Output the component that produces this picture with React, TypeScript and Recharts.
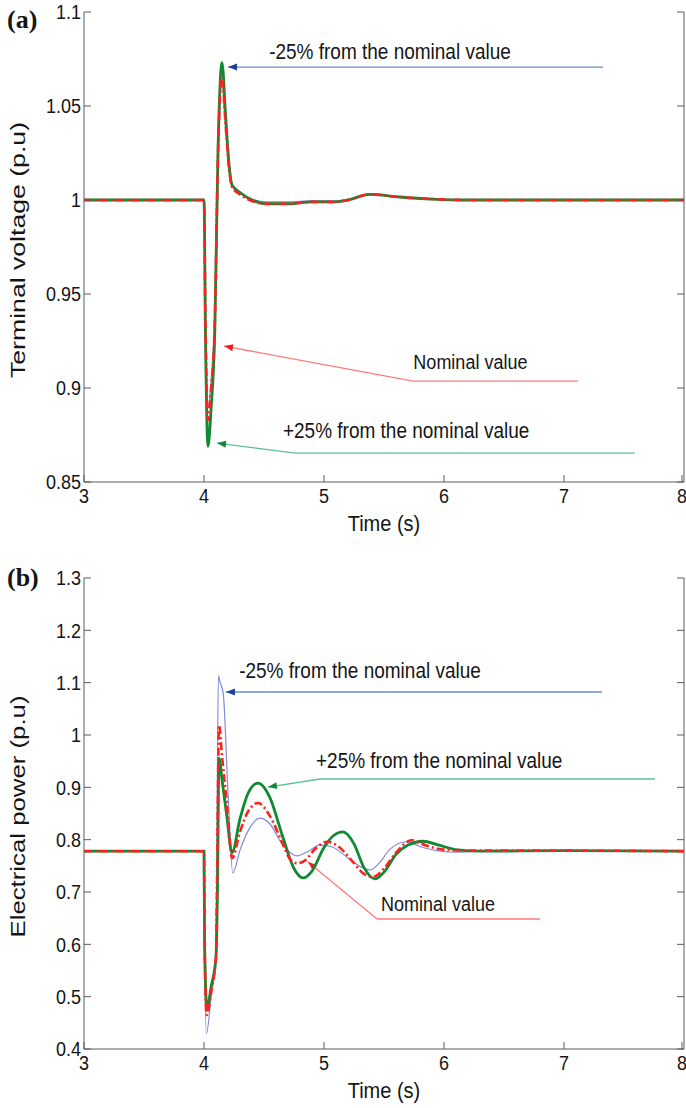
import React from 'react';
import { LineChart, Line, XAxis, YAxis, ReferenceLine, ReferenceDot } from 'recharts';

const FONT = '"Liberation Sans", Arial, Helvetica, sans-serif';
const AXIS = '#5a5a5a';
const TEXT = '#151515';
const TICK_LEN = 7;
const STRETCH = 1.12;

const timeTicks = [3, 4, 5, 6, 7, 8];
const voltTicks = [0.85, 0.9, 0.95, 1, 1.05, 1.1];
const powerTicks = [0.4, 0.5, 0.6, 0.7, 0.8, 0.9, 1, 1.1, 1.2, 1.3];

// (a) terminal voltage, shared time base
const tVolt = [3, 4.0, 4.012, 4.033, 4.06, 4.09, 4.117, 4.15, 4.18, 4.21, 4.233, 4.3, 4.4, 4.525, 4.7, 4.9, 5.08, 5.2, 5.38, 5.63, 5.9, 6.2, 7, 8];
const voltMinus = [1, 1, 0.94, 0.89, 0.905, 0.94, 1.022, 1.062, 1.038, 1.015, 1.008, 1.004, 1.0005, 0.999, 0.999, 0.9995, 0.9995, 1.0005, 1.0032, 1.0017, 1.0005, 1.0, 1.0, 1.0];
const voltNominal = [1, 1, 0.935, 0.883, 0.9, 0.935, 1.025, 1.066, 1.04, 1.016, 1.007, 1.003, 0.9995, 0.998, 0.998, 0.999, 0.999, 1.0, 1.003, 1.0016, 1.0005, 1.0, 1.0, 1.0];
const voltPlus = [1, 1, 0.93, 0.869, 0.89, 0.93, 1.027, 1.073, 1.045, 1.018, 1.008, 1.004, 1.0, 0.998, 0.998, 0.999, 0.999, 1.0, 1.003, 1.0016, 1.0005, 1.0, 1.0, 1.0];

// (b) electrical power, one time base per case
const tPowMinus = [3, 4.0, 4.005, 4.02, 4.06, 4.1, 4.108, 4.12, 4.135, 4.16, 4.2, 4.24, 4.3, 4.38, 4.467, 4.55, 4.65, 4.775, 4.87, 4.967, 5.07, 5.2, 5.3, 5.383, 5.47, 5.55, 5.69, 5.8, 5.94, 6.1, 6.3, 7, 8];
const powMinus = [0.778, 0.778, 0.6, 0.43, 0.5, 0.58, 0.8, 1.113, 1.1, 1.08, 0.89, 0.736, 0.78, 0.822, 0.841, 0.83, 0.792, 0.769, 0.778, 0.79, 0.786, 0.765, 0.749, 0.742, 0.758, 0.782, 0.796, 0.787, 0.779, 0.776, 0.778, 0.778, 0.778];
const tPowNominal = [3, 4.0, 4.005, 4.022, 4.06, 4.1, 4.11, 4.125, 4.15, 4.19, 4.235, 4.3, 4.37, 4.45, 4.55, 4.65, 4.72, 4.78, 4.84, 4.93, 5.025, 5.12, 5.25, 5.33, 5.41, 5.5, 5.6, 5.73, 5.85, 6.0, 6.2, 7, 8];
const powNominal = [0.778, 0.778, 0.6, 0.465, 0.51, 0.578, 0.75, 1.019, 0.96, 0.87, 0.765, 0.815, 0.855, 0.87, 0.845, 0.795, 0.762, 0.755, 0.76, 0.783, 0.796, 0.787, 0.755, 0.735, 0.729, 0.745, 0.775, 0.799, 0.789, 0.781, 0.779, 0.779, 0.778];
const tPowPlus = [3, 4.0, 4.005, 4.025, 4.06, 4.1, 4.112, 4.125, 4.15, 4.19, 4.233, 4.3, 4.37, 4.45, 4.55, 4.65, 4.75, 4.825, 4.9, 5.0, 5.08, 5.158, 5.25, 5.33, 5.425, 5.5, 5.6, 5.7, 5.825, 5.95, 6.1, 6.3, 7, 8];
const powPlus = [0.778, 0.778, 0.6, 0.478, 0.52, 0.575, 0.7, 0.956, 0.915, 0.845, 0.775, 0.84, 0.89, 0.908, 0.88, 0.81, 0.745, 0.727, 0.74, 0.785, 0.808, 0.815, 0.792, 0.748, 0.725, 0.738, 0.772, 0.79, 0.797, 0.79, 0.781, 0.778, 0.779, 0.778];

// annotation arrows (data units): tip first, then elbow / tail
const voltArrowMinus = [[4.2, 1.0707], [7.325, 1.0707]];
const voltArrowNominal = [[4.167, 0.9223], [5.742, 0.9037], [7.117, 0.9037]];
const voltArrowPlus = [[4.108, 0.8707], [4.758, 0.8654], [7.592, 0.8654]];
const powArrowMinus = [[4.183, 1.0822], [7.317, 1.0822]];
const powArrowPlus = [[4.533, 0.9006], [4.967, 0.9159], [7.758, 0.9159]];
const powArrowNominal = [[4.867, 0.7573], [5.442, 0.6484], [6.8, 0.6484]];

const LABEL_MINUS = '-25% from the nominal value';
const LABEL_PLUS = '+25% from the nominal value';
const LABEL_NOMINAL = 'Nominal value';
const voltLabelPos = { minus: [5.55, 1.0782], nominal: [6.22, 0.9138], plus: [5.685, 0.8766] };
const powLabelPos = { minus: [5.3, 1.1204], nominal: [5.95, 0.677], plus: [5.96, 0.9484] };

const pts = (ts: number[], vs: number[]) => ts.map((t, i) => ({ t, v: vs[i] }));

const COLORS = {
  minus: '#8489dc',
  nominal: '#ff2020',
  plus: '#0f8a32',
  arrowMinus: '#6b8cc4',
  arrowMinusHead: '#1d3f9c',
  arrowNominal: '#ff7a7a',
  arrowNominalHead: '#e82020',
  arrowPlus: '#5fbf98',
  arrowPlusHead: '#16853a',
};

const fmt = (v: number) => String(v);

// text drawn slightly taller than wide, as in the scanned figure
function Txt({ x, y, size, anchor, children }: any) {
  return (
    <text
      x={x}
      y={y}
      transform={`translate(0 ${y}) scale(1 ${STRETCH}) translate(0 ${-y})`}
      textAnchor={anchor}
      fontSize={size}
      fontFamily={FONT}
      fill={TEXT}
    >
      {children}
    </text>
  );
}

function BottomTick(props: any) {
  const { x, y, payload } = props;
  const axisY = y - 6;
  return (
    <g>
      <line x1={x} x2={x} y1={axisY} y2={axisY - TICK_LEN} stroke={AXIS} />
      <Txt x={x} y={axisY + 21} size={18} anchor="middle">{fmt(payload.value)}</Txt>
    </g>
  );
}

function TopTick(props: any) {
  const { x, y } = props;
  return <line x1={x} x2={x} y1={y} y2={y + TICK_LEN} stroke={AXIS} />;
}

function LeftTick(props: any) {
  const { x, y, payload } = props;
  const axisX = x + 3;
  return (
    <g>
      <line x1={axisX} x2={axisX + TICK_LEN} y1={y} y2={y} stroke={AXIS} />
      <Txt x={x} y={y + 7.5} size={18} anchor="end">{fmt(payload.value)}</Txt>
    </g>
  );
}

function RightTick(props: any) {
  const { x, y } = props;
  return <line x1={x} x2={x - TICK_LEN} y1={y} y2={y} stroke={AXIS} />;
}

const yTitle = (text: string, length: number) => (props: any) => {
  const { x, y, height } = props.viewBox;
  const cx = x + 25;
  const cy = y + height / 2 + 3;
  return (
    <text
      x={cx}
      y={cy}
      transform={`rotate(-90 ${cx} ${cy})`}
      textAnchor="middle"
      fontSize={21}
      fontFamily={FONT}
      fill={TEXT}
      textLength={length}
      lengthAdjust="spacingAndGlyphs"
    >
      {text}
    </text>
  );
};

const xTitle = (props: any) => {
  const { x, y, width } = props.viewBox;
  return <Txt x={x + width / 2} y={y + 49} size={20} anchor="middle">Time (s)</Txt>;
};

const arrowShape = (color: string, headColor: string, head: boolean) => (p: any) => {
  const { x1, y1, x2, y2 } = p;
  const dx = x1 - x2;
  const dy = y1 - y2;
  const len = Math.hypot(dx, dy) || 1;
  const ux = dx / len;
  const uy = dy / len;
  const L = 9;
  const W = 3.5;
  const bx = x1 - ux * L;
  const by = y1 - uy * L;
  return (
    <g>
      <line x1={x1} y1={y1} x2={x2} y2={y2} stroke={color} strokeWidth={1.3} />
      {head && (
        <polygon points={`${x1},${y1} ${bx - uy * W},${by + ux * W} ${bx + uy * W},${by - ux * W}`} fill={headColor} />
      )}
    </g>
  );
};

const arrow = (key: string, path: number[][], color: string, headColor: string) =>
  path.slice(1).map((p, i) => (
    <ReferenceLine
      key={`${key}-${i}`}
      segment={[{ x: path[i][0], y: path[i][1] }, { x: p[0], y: p[1] }]}
      shape={arrowShape(color, headColor, i === 0)}
    />
  ));

const note = (key: string, pos: number[], text: string, size: number) => (
  <ReferenceDot
    key={key}
    x={pos[0]}
    y={pos[1]}
    r={0}
    shape={(p: any) => <Txt x={p.cx} y={p.cy + 6.5} size={size} anchor="middle">{text}</Txt>}
  />
);

const axes = (domain: number[], ticks: number[], title: string, titleLength: number) => [
  <XAxis
    key="xb"
    type="number"
    dataKey="t"
    domain={[3, 8]}
    ticks={timeTicks}
    allowDataOverflow
    height={55}
    tickSize={0}
    tickMargin={6}
    tick={<BottomTick />}
    axisLine={{ stroke: AXIS }}
    label={xTitle}
  />,
  <XAxis
    key="xt"
    xAxisId="top"
    orientation="top"
    type="number"
    dataKey="t"
    domain={[3, 8]}
    ticks={timeTicks}
    allowDataOverflow
    height={0}
    tickSize={0}
    tickMargin={0}
    tick={<TopTick />}
    axisLine={{ stroke: AXIS }}
  />,
  <YAxis
    key="yl"
    type="number"
    domain={domain}
    ticks={ticks}
    allowDataOverflow
    width={84}
    tickSize={0}
    tickMargin={3}
    tick={<LeftTick />}
    axisLine={{ stroke: AXIS }}
    label={yTitle(title, titleLength)}
  />,
  <YAxis
    key="yr"
    yAxisId="right"
    orientation="right"
    type="number"
    domain={domain}
    ticks={ticks}
    allowDataOverflow
    width={2}
    tickSize={0}
    tickMargin={0}
    tick={<RightTick />}
    axisLine={{ stroke: AXIS }}
  />,
];

const series = (minus: any[], nominal: any[], plus: any[]) => [
  <Line key="m" data={minus} dataKey="v" type="monotone" stroke={COLORS.minus} strokeWidth={1.2} dot={false} activeDot={false} isAnimationActive={false} />,
  <Line key="p" data={plus} dataKey="v" type="monotone" stroke={COLORS.plus} strokeWidth={2.8} dot={false} activeDot={false} isAnimationActive={false} />,
  <Line key="n" data={nominal} dataKey="v" type="monotone" stroke={COLORS.nominal} strokeWidth={2.6} strokeDasharray="8 3 2 3" dot={false} activeDot={false} isAnimationActive={false} />,
];

const panelLabel: React.CSSProperties = {
  position: 'absolute',
  left: 7,
  fontFamily: '"Liberation Serif", "Times New Roman", serif',
  fontWeight: 'bold',
  fontSize: 26,
  color: TEXT,
  lineHeight: 1,
};

export default function App() {
  const voltMinusPts = pts(tVolt, voltMinus);
  const voltNominalPts = pts(tVolt, voltNominal);
  const voltPlusPts = pts(tVolt, voltPlus);
  return (
    <div style={{ position: 'absolute', left: 0, top: 0, width: 686, height: 1108, background: '#fff' }}>
      <div style={{ position: 'absolute', left: 0, top: 0 }}>
        <LineChart width={686} height={537} margin={{ top: 12, right: 0, bottom: 0, left: 0 }}>
          {axes([0.85, 1.1], voltTicks, 'Terminal voltage (p.u)', 256)}
          {arrow('am', voltArrowMinus, COLORS.arrowMinus, COLORS.arrowMinusHead)}
          {arrow('an', voltArrowNominal, COLORS.arrowNominal, COLORS.arrowNominalHead)}
          {arrow('ap', voltArrowPlus, COLORS.arrowPlus, COLORS.arrowPlusHead)}
          {series(voltMinusPts, voltNominalPts, voltPlusPts)}
          {note('lm', voltLabelPos.minus, LABEL_MINUS, 19)}
          {note('ln', voltLabelPos.nominal, LABEL_NOMINAL, 18)}
          {note('lp', voltLabelPos.plus, LABEL_PLUS, 19)}
        </LineChart>
      </div>
      <div style={{ position: 'absolute', left: 0, top: 566 }}>
        <LineChart width={686} height={538} margin={{ top: 12, right: 0, bottom: 0, left: 0 }}>
          {axes([0.4, 1.3], powerTicks, 'Electrical power (p.u)', 242)}
          {arrow('bm', powArrowMinus, COLORS.arrowMinus, COLORS.arrowMinusHead)}
          {arrow('bp', powArrowPlus, COLORS.arrowPlus, COLORS.arrowPlusHead)}
          {arrow('bn', powArrowNominal, COLORS.arrowNominal, COLORS.arrowNominalHead)}
          {series(pts(tPowMinus, powMinus), pts(tPowNominal, powNominal), pts(tPowPlus, powPlus))}
          {note('mm', powLabelPos.minus, LABEL_MINUS, 19)}
          {note('mn', powLabelPos.nominal, LABEL_NOMINAL, 18)}
          {note('mp', powLabelPos.plus, LABEL_PLUS, 19)}
        </LineChart>
      </div>
      <div style={{ ...panelLabel, top: 7 }}>(a)</div>
      <div style={{ ...panelLabel, top: 565 }}>(b)</div>
    </div>
  );
}
